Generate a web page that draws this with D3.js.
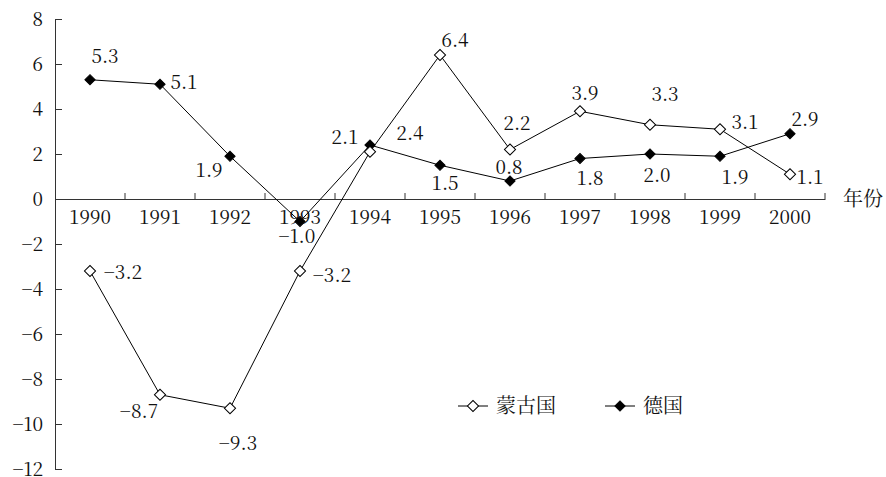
<!DOCTYPE html>
<html>
<head>
<meta charset="utf-8">
<script src="https://cdn.jsdelivr.net/npm/d3@7"></script>
<style>
  body { margin: 0; background: #fff; }
</style>
</head>
<body>
<div class="chart"></div>
<script>
// data
var years = ["1990", "1991", "1992", "1993", "1994", "1995", "1996", "1997", "1998", "1999", "2000"];
var mongolia = [-3.2, -8.7, -9.3, -3.2, 2.1, 6.4, 2.2, 3.9, 3.3, 3.1, 1.1];
var germany = [5.3, 5.1, 1.9, -1.0, 2.4, 1.5, 0.8, 1.8, 2.0, 1.9, 2.9];
var yTicks = [-12, -10, -8, -6, -4, -2, 0, 2, 4, 6, 8];
var seriesNames = ["蒙古国", "德国"];

// label offsets (px) from each point, same order as the data
var mongoliaLabelPos = [[33, 1], [-21, 17], [8, 35], [32, 4], [-25, -14], [15, -15], [7, -26], [5, -18], [15, -30], [25, -7], [20, 3]];
var germanyLabelPos = [[15, -23], [24, -2], [-21, 14], [-3, 15], [40, -12], [5, 18], [-1, -14], [10, 20], [7, 21], [15, 21], [15, -14]];

var SERIF = "'Noto Serif CJK SC'";
var CJK = "'Noto Serif CJK SC'";

var W = 886, H = 477;
var svg = d3.select(".chart").append("svg")
  .attr("width", W)
  .attr("height", H);

var x = d3.scaleBand().domain(years).range([55, 825]);
var y = d3.scaleLinear().domain([-12, 8]).range([469, 19]);
var cx = function(i) { return x(years[i]) + x.bandwidth() / 2; };
var fmt = d3.format(".1f");

function serifText(sel) {
  sel.style("font-family", SERIF).style("font-size", "19px").attr("fill", "#111");
}

// y axis, ticks pointing inside
var yAxis = svg.append("g")
  .attr("transform", "translate(55,0)")
  .call(d3.axisLeft(y).tickValues(yTicks).tickSize(-7).tickPadding(12).tickFormat(d3.format("d")));
yAxis.selectAll("text").call(serifText);
yAxis.selectAll("line, path").attr("stroke", "#333");

// x axis on the zero line
var xAxis = svg.append("g")
  .attr("transform", `translate(0,${y(0)})`)
  .call(d3.axisBottom(x).tickSize(0).tickPadding(12));
xAxis.selectAll("text").call(serifText);
xAxis.select("path").attr("stroke", "#333");

// category boundary ticks, pointing up
svg.append("g").selectAll("line")
  .data(years)
  .enter()
  .append("line")
  .attr("x1", function(d) { return x(d) + x.bandwidth(); })
  .attr("x2", function(d) { return x(d) + x.bandwidth(); })
  .attr("y1", y(0))
  .attr("y2", y(0) - 6)
  .attr("stroke", "#333");

svg.append("text")
  .attr("x", 843)
  .attr("y", y(0))
  .attr("dy", "0.35em")
  .style("font-family", CJK)
  .style("font-size", "20px")
  .attr("fill", "#111")
  .text("年份");

function diamond(sel, filled) {
  sel.attr("d", d3.symbol().type(d3.symbolSquare).size(filled ? 52 : 62))
    .attr("fill", filled ? "#000" : "#fff")
    .attr("stroke", "#000")
    .attr("stroke-width", 1);
}

function drawSeries(values, labelPos, filled) {
  var line = d3.line()
    .x(function(d, i) { return cx(i); })
    .y(function(d) { return y(d); });

  svg.append("path")
    .datum(values)
    .attr("d", line)
    .attr("fill", "none")
    .attr("stroke", "#000")
    .attr("stroke-width", 1);

  svg.append("g").selectAll("path")
    .data(values)
    .enter()
    .append("path")
    .attr("transform", function(d, i) { return `translate(${cx(i)},${y(d)}) rotate(45)`; })
    .call(diamond, filled);

  svg.append("g")
    .selectAll("text")
    .data(values)
    .enter()
    .append("text")
    .attr("x", function(d, i) { return cx(i) + labelPos[i][0]; })
    .attr("y", function(d, i) { return y(d) + labelPos[i][1]; })
    .attr("dy", "0.35em")
    .attr("text-anchor", "middle")
    .call(serifText)
    .text(function(d) { return fmt(d); });
}

drawSeries(germany, germanyLabelPos, true);
drawSeries(mongolia, mongoliaLabelPos, false);

// legend
var legend = svg.append("g").attr("transform", "translate(458,406)");
seriesNames.forEach(function(name, k) {
  var g = legend.append("g").attr("transform", `translate(${k * 147},0)`);
  g.append("line").attr("x1", 0).attr("x2", 30).attr("stroke", "#000");
  g.append("path").attr("transform", "translate(15,0) rotate(45)").call(diamond, k === 1);
  g.append("text")
    .attr("x", 38)
    .attr("dy", "0.35em")
    .style("font-family", CJK)
    .style("font-size", "20px")
    .attr("fill", "#111")
    .text(name);
});
</script>
</body>
</html>
